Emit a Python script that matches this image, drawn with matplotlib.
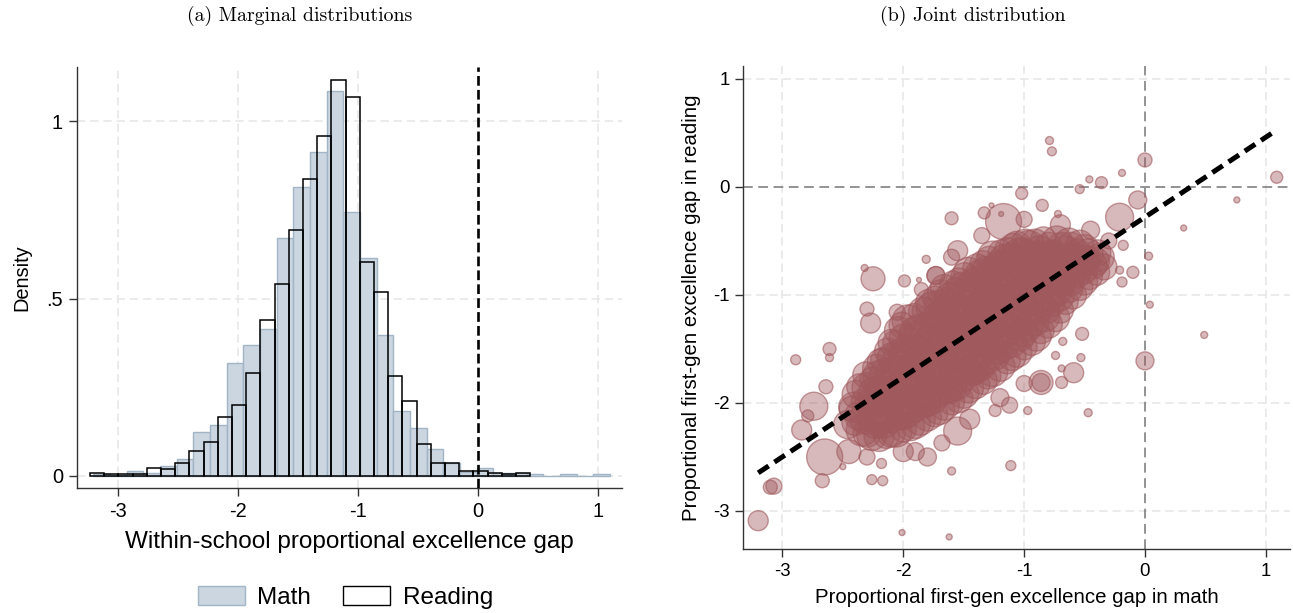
import matplotlib.pyplot as plt
from matplotlib.patches import Patch
import numpy as np

plt.rcParams['font.family'] = ['Liberation Sans', 'DejaVu Sans']
plt.rcParams['lines.scale_dashes'] = False

# --- marginal distributions (density per bin) ---
math_start, math_width = -3.206, 0.1389
math_density = [0.005, 0.002, 0.013, 0.007, 0.027, 0.049, 0.124, 0.143,
                0.318, 0.368, 0.413, 0.670, 0.816, 0.913, 1.086, 0.745,
                0.614, 0.397, 0.183, 0.134, 0.075, 0.036, 0.012, 0.021,
                0.008, 0.0075, 0.004, 0.0, 0.004, 0.0, 0.004]

read_start, read_width = -3.233, 0.1183
read_density = [0.009, 0.004, 0.004, 0.005, 0.021, 0.020, 0.037, 0.069,
                0.096, 0.167, 0.199, 0.291, 0.440, 0.541, 0.694, 0.836,
                0.959, 1.117, 1.068, 0.602, 0.520, 0.282, 0.210, 0.090,
                0.037, 0.035, 0.014, 0.014, 0.009, 0.004, 0.009]

# --- joint distribution: school-level gaps (math, reading) and weights ---
# main body of schools
cloud_math = [
    -2.46, -2.43,
    -2.34, -2.37, -2.33, -2.36,
    -2.26, -2.23, -2.27, -2.24, -2.26, -2.22,
    -2.14, -2.17, -2.13, -2.16, -2.14, -2.17, -2.13,
    -2.06, -2.03, -2.07, -2.04, -2.06, -2.03, -2.07, -2.04,
    -1.94, -1.97, -1.93, -1.96, -1.94, -1.97, -1.93, -1.96,
    -1.86, -1.83, -1.87, -1.84, -1.86, -1.83, -1.87, -1.84,
    -1.74, -1.77, -1.73, -1.76, -1.74, -1.77, -1.73, -1.76, -1.74,
    -1.66, -1.63, -1.67, -1.64, -1.66, -1.63, -1.67, -1.64, -1.66,
    -1.54, -1.57, -1.53, -1.56, -1.54, -1.57, -1.53, -1.56, -1.54,
    -1.46, -1.43, -1.47, -1.44, -1.46, -1.43, -1.47, -1.44, -1.46,
    -1.34, -1.37, -1.33, -1.36, -1.34, -1.37, -1.33, -1.36, -1.34,
    -1.26, -1.23, -1.27, -1.24, -1.26, -1.23, -1.27, -1.24, -1.26,
    -1.14, -1.17, -1.13, -1.16, -1.14, -1.17, -1.13, -1.16, -1.14,
    -1.06, -1.03, -1.07, -1.04, -1.06, -1.03, -1.07, -1.04, -1.06,
    -0.94, -0.97, -0.93, -0.96, -0.94, -0.97, -0.93, -0.96,
    -0.86, -0.83, -0.87, -0.84, -0.86, -0.83, -0.87, -0.84,
    -0.74, -0.77, -0.73, -0.76, -0.74, -0.77, -0.73,
    -0.66, -0.63, -0.67, -0.64, -0.66, -0.63,
    -0.54, -0.57, -0.53, -0.56, -0.54,
    -0.46, -0.43, -0.47,
    -0.34, -0.37,
]
cloud_read = [
    -2.20, -2.05,
    -2.25, -2.12, -1.98, -1.85,
    -2.30, -2.17, -2.04, -1.91, -1.78, -1.68,
    -2.30, -2.16, -2.02, -1.88, -1.74, -1.60, -1.52,
    -2.26, -2.12, -1.98, -1.84, -1.70, -1.56, -1.44, -1.33,
    -2.22, -2.08, -1.94, -1.80, -1.66, -1.52, -1.38, -1.24,
    -2.16, -2.02, -1.88, -1.74, -1.60, -1.46, -1.32, -1.15,
    -2.10, -1.96, -1.82, -1.68, -1.54, -1.40, -1.26, -1.12, -1.03,
    -2.02, -1.88, -1.74, -1.60, -1.46, -1.32, -1.18, -1.05, -0.94,
    -1.96, -1.82, -1.68, -1.54, -1.40, -1.26, -1.12, -0.98, -0.87,
    -1.86, -1.72, -1.58, -1.44, -1.30, -1.16, -1.02, -0.90, -0.79,
    -1.79, -1.65, -1.51, -1.37, -1.23, -1.09, -0.95, -0.82, -0.71,
    -1.71, -1.57, -1.43, -1.29, -1.15, -1.01, -0.87, -0.75, -0.64,
    -1.61, -1.47, -1.33, -1.19, -1.05, -0.92, -0.80, -0.68, -0.59,
    -1.53, -1.39, -1.25, -1.11, -0.98, -0.86, -0.74, -0.63, -0.54,
    -1.43, -1.29, -1.16, -1.03, -0.90, -0.78, -0.66, -0.55,
    -1.33, -1.20, -1.07, -0.94, -0.82, -0.70, -0.59, -0.49,
    -1.21, -1.08, -0.96, -0.84, -0.72, -0.61, -0.50,
    -1.06, -0.94, -0.82, -0.71, -0.60, -0.51,
    -0.93, -0.81, -0.70, -0.60, -0.53,
    -0.83, -0.72, -0.62,
    -0.74, -0.65,
]
cloud_weight = [
    196, 144,
    256, 196, 144, 169,
    225, 289, 169, 256, 144, 196,
    169, 324, 225, 196, 289, 144, 169,
    256, 196, 361, 169, 225, 256, 144, 196,
    196, 256, 169, 324, 196, 225, 169, 256,
    225, 169, 289, 196, 256, 169, 225, 196,
    169, 256, 196, 324, 169, 225, 196, 256, 144,
    225, 196, 256, 169, 289, 196, 225, 169, 196,
    196, 289, 169, 225, 196, 324, 169, 225, 169,
    225, 169, 256, 196, 225, 289, 169, 196, 225,
    196, 256, 169, 225, 324, 196, 169, 256, 169,
    225, 169, 289, 196, 225, 169, 256, 196, 225,
    169, 225, 196, 289, 169, 225, 196, 256, 169,
    225, 196, 169, 256, 196, 225, 169, 289, 196,
    196, 225, 169, 256, 196, 169, 225, 256,
    169, 225, 196, 169, 256, 196, 225, 169,
    196, 169, 225, 196, 256, 169, 225,
    169, 196, 225, 169, 256, 196,
    169, 196, 225, 169, 196,
    169, 196, 225,
    169, 196,
]

# more schools packed in the body
core_math = [
    -2.40, -2.41, -2.39,
    -2.30, -2.31, -2.29, -2.30, -2.31,
    -2.20, -2.21, -2.19, -2.20, -2.21, -2.19,
    -2.10, -2.11, -2.09, -2.10, -2.11, -2.09, -2.10,
    -2.00, -2.01, -1.99, -2.00, -2.01, -1.99, -2.00, -2.01,
    -1.90, -1.91, -1.89, -1.90, -1.91, -1.89, -1.90, -1.91,
    -1.80, -1.81, -1.79, -1.80, -1.81, -1.79, -1.80, -1.81, -1.79,
    -1.70, -1.71, -1.69, -1.70, -1.71, -1.69, -1.70, -1.71, -1.69,
    -1.60, -1.61, -1.59, -1.60, -1.61, -1.59, -1.60, -1.61, -1.59,
    -1.50, -1.51, -1.49, -1.50, -1.51, -1.49, -1.50, -1.51, -1.49,
    -1.40, -1.41, -1.39, -1.40, -1.41, -1.39, -1.40, -1.41, -1.39,
    -1.30, -1.31, -1.29, -1.30, -1.31, -1.29, -1.30, -1.31, -1.29,
    -1.20, -1.21, -1.19, -1.20, -1.21, -1.19, -1.20, -1.21, -1.19,
    -1.10, -1.11, -1.09, -1.10, -1.11, -1.09, -1.10, -1.11, -1.09,
    -1.00, -1.01, -0.99, -1.00, -1.01, -0.99, -1.00, -1.01, -0.99,
    -0.90, -0.91, -0.89, -0.90, -0.91, -0.89, -0.90, -0.91,
    -0.80, -0.81, -0.79, -0.80, -0.81, -0.79, -0.80,
    -0.70, -0.71, -0.69, -0.70, -0.71, -0.69,
    -0.60, -0.61, -0.59, -0.60, -0.61,
    -0.50, -0.51, -0.49, -0.50,
    -0.40, -0.41, -0.39,
]
core_read = [
    -2.18, -2.04, -1.92,
    -2.28, -2.14, -2.00, -1.86, -1.74,
    -2.31, -2.17, -2.03, -1.89, -1.75, -1.62,
    -2.28, -2.14, -2.00, -1.86, -1.72, -1.58, -1.44,
    -2.24, -2.10, -1.96, -1.82, -1.68, -1.54, -1.40, -1.28,
    -2.19, -2.05, -1.91, -1.77, -1.63, -1.49, -1.35, -1.20,
    -2.13, -1.99, -1.85, -1.71, -1.57, -1.43, -1.29, -1.15, -1.07,
    -2.06, -1.92, -1.78, -1.64, -1.50, -1.36, -1.22, -1.09, -0.98,
    -1.99, -1.85, -1.71, -1.57, -1.43, -1.29, -1.15, -1.02, -0.90,
    -1.91, -1.77, -1.63, -1.49, -1.35, -1.21, -1.07, -0.94, -0.83,
    -1.83, -1.69, -1.55, -1.41, -1.27, -1.13, -0.99, -0.86, -0.75,
    -1.75, -1.61, -1.47, -1.33, -1.19, -1.05, -0.91, -0.78, -0.67,
    -1.66, -1.52, -1.38, -1.24, -1.10, -0.97, -0.84, -0.72, -0.61,
    -1.57, -1.43, -1.29, -1.15, -1.02, -0.89, -0.77, -0.66, -0.56,
    -1.48, -1.34, -1.21, -1.08, -0.95, -0.82, -0.70, -0.59, -0.52,
    -1.38, -1.25, -1.12, -0.99, -0.86, -0.74, -0.62, -0.52,
    -1.27, -1.14, -1.01, -0.89, -0.77, -0.65, -0.54,
    -1.14, -1.01, -0.89, -0.77, -0.66, -0.55,
    -1.00, -0.88, -0.76, -0.65, -0.55,
    -0.88, -0.77, -0.66, -0.57,
    -0.79, -0.69, -0.61,
]
core_weight = [
    169, 225, 196,
    196, 256, 169, 225, 169,
    225, 169, 256, 196, 225, 169,
    196, 225, 169, 289, 196, 225, 169,
    169, 256, 196, 225, 169, 256, 196, 169,
    225, 196, 289, 169, 225, 196, 256, 169,
    196, 225, 169, 256, 196, 225, 169, 196, 169,
    225, 169, 256, 196, 225, 169, 289, 196, 169,
    169, 256, 196, 225, 169, 256, 196, 225, 169,
    225, 196, 169, 289, 196, 225, 169, 256, 196,
    196, 225, 256, 169, 225, 196, 289, 169, 196,
    169, 196, 225, 256, 169, 225, 196, 225, 169,
    225, 169, 196, 225, 289, 169, 225, 196, 169,
    196, 256, 169, 196, 225, 256, 169, 225, 196,
    169, 225, 196, 169, 256, 196, 225, 169, 196,
    225, 196, 256, 169, 225, 196, 169, 196,
    196, 169, 225, 196, 169, 225, 169,
    169, 225, 196, 169, 225, 196,
    196, 169, 225, 169, 196,
    169, 196, 169, 196,
    169, 196, 169,
]

# schools around the rim of the body
edge_math = [-1.73, -2.05, -1.85, -1.60, -1.35, -1.00, -0.70, -0.45, -0.30,
             -2.45, -2.30, -2.00, -1.90, -1.45, -1.20, -1.00, -1.12, -1.24,
             -0.86, -0.53, -0.69, -0.74, -0.10, -0.19, -0.21, -0.18, -1.19]
edge_read = [-0.82, -1.16, -0.95, -0.65, -0.45, -0.30, -0.35, -0.40, -0.50,
             -2.45, -2.50, -2.45, -2.45, -2.15, -1.95, -1.82, -2.02, -2.07,
             -1.81, -1.58, -1.68, -1.56, -0.79, -0.88, -0.77, -0.54, -0.25]
edge_weight = [81, 64, 49, 64, 64, 64, 100, 81, 64,
               144, 64, 100, 81, 100, 81, 64, 64, 36,
               81, 16, 12, 16, 36, 25, 16, 25, 6]

# isolated schools
out_math = [-0.79, -0.77, 0.00, -0.19, -0.46, -0.36, -0.54, -1.02, 1.09,
            0.76, 0.32, -0.06, -0.21, -0.85, -0.72, -1.17, -1.33, -1.27,
            -1.60, -1.55, -1.81, -1.99, -1.87, -2.25, -2.32, -2.30, -2.27,
            0.03, 0.04, 0.49, 0.00, -0.47, -0.59, -0.52, -0.69, -0.97,
            -1.11, -1.60, -2.01, -1.62, -2.17, -2.26, -2.50, -2.67, -3.07,
            -3.10, -3.20, -2.89, -2.61, -2.61, -2.64, -2.74, -2.84, -2.65,
            -2.79, -2.18, -1.80, -1.68, -1.55, -0.68, -0.86, -1.73]
out_read = [0.43, 0.33, 0.25, 0.13, 0.07, 0.04, -0.02, -0.06, 0.09,
            -0.12, -0.38, -0.12, -0.28, -0.17, -0.25, -0.32, -0.24, -0.17,
            -0.29, -0.59, -0.67, -0.87, -0.86, -0.85, -0.75, -1.13, -1.26,
            -0.64, -1.09, -1.37, -1.61, -2.09, -1.72, -1.36, -1.81, -2.07,
            -2.58, -2.63, -3.20, -3.24, -2.72, -2.71, -2.59, -2.72, -2.77,
            -2.78, -3.09, -1.60, -1.50, -1.58, -1.85, -2.03, -2.25, -2.50,
            -2.12, -2.56, -2.50, -2.37, -2.26, -1.43, -1.81, -0.82]
out_weight = [16, 20, 49, 12, 12, 36, 20, 36, 36,
              9, 9, 81, 196, 36, 12, 324, 36, 6,
              42, 100, 16, 36, 6, 144, 12, 49, 100,
              16, 12, 12, 81, 16, 100, 42, 36, 16,
              25, 16, 9, 9, 25, 25, 9, 49, 64,
              49, 100, 25, 42, 16, 49, 196, 100, 324,
              36, 25, 81, 64, 196, 16, 144, 81]

# fitted line of reading gap on math gap
fit_slope, fit_intercept = 0.740, -0.279

math_gap = np.array(cloud_math + core_math + edge_math + out_math)
read_gap = np.array(cloud_read + core_read + edge_read + out_read)
school_weight = np.array(cloud_weight + core_weight + edge_weight + out_weight)

math_fill = '#cbd6e0'
math_edge = '#a2b5c6'
grid_kw = dict(color='#e8e8e8', lw=1.2, dashes=(6, 3.5), zorder=0)

fig = plt.figure(figsize=(12.93, 6.13), dpi=100)

# (a) histograms
ax1 = fig.add_axes([0.0593, 0.2034, 0.4215, 0.6878])
for v in [-3, -2, -1, 1]:
    ax1.axvline(v, **grid_kw)
for v in [0, 0.5, 1]:
    ax1.axhline(v, **grid_kw)

math_edges = math_start + math_width * np.arange(len(math_density) + 1)
read_edges = read_start + read_width * np.arange(len(read_density) + 1)
ax1.bar(math_edges[:-1], math_density, width=math_width, align='edge',
        color=math_fill, edgecolor=math_edge, linewidth=1.0, zorder=2)
ax1.bar(read_edges[:-1], read_density, width=read_width, align='edge',
        fill=False, edgecolor='black', linewidth=1.1, zorder=3)
ax1.axvline(0, color='black', lw=1.9, dashes=(7, 3), zorder=4)

ax1.set_xlim(-3.344, 1.197)
ax1.set_ylim(-0.035, 1.154)
ax1.set_xticks([-3, -2, -1, 0, 1])
ax1.set_xticklabels(['-3', '-2', '-1', '0', '1'])
ax1.set_yticks([0, 0.5, 1])
ax1.set_yticklabels(['0', '.5', '1'])
ax1.set_ylabel('Density', fontsize=14.4)
ax1.yaxis.set_label_coords(-0.083, 0.5)
ax1.set_xlabel('Within-school proportional excellence gap', fontsize=17.5,
               labelpad=7)
ax1.tick_params(labelsize=14.4)

# (b) bubble scatter
ax2 = fig.add_axes([0.5749, 0.1039, 0.4228, 0.7884])
for v in [-3, -2, -1, 1]:
    ax2.axvline(v, **grid_kw)
for v in [1, -1, -2, -3]:
    ax2.axhline(v, **grid_kw)
ax2.axvline(0, color='#808080', lw=1.2, dashes=(7, 4), zorder=1)
ax2.axhline(0, color='#808080', lw=1.2, dashes=(7, 4), zorder=1)

ax2.scatter(math_gap, read_gap, s=school_weight * 2.07,
            facecolor=(0.627, 0.349, 0.365, 0.42),
            edgecolor=(0.627, 0.349, 0.365, 0.6), linewidth=1.0, zorder=2)

fit_x = np.array([math_gap.min(), math_gap.max()])
ax2.plot(fit_x, fit_intercept + fit_slope * fit_x, color='black', lw=3.6,
         dashes=(9, 5), zorder=5)

ax2.set_xlim(-3.323, 1.2)
ax2.set_ylim(-3.355, 1.12)
ax2.set_xticks([-3, -2, -1, 0, 1])
ax2.set_xticklabels(['-3', '-2', '-1', '0', '1'])
ax2.set_yticks([1, 0, -1, -2, -3])
ax2.set_yticklabels(['1', '0', '-1', '-2', '-3'])
ax2.set_xlabel('Proportional first-gen excellence gap in math', fontsize=14.7,
               labelpad=6)
ax2.set_ylabel('Proportional first-gen excellence gap in reading', fontsize=14.7)
ax2.yaxis.set_label_coords(-0.078, 0.5)
ax2.tick_params(labelsize=13.4)

for ax in (ax1, ax2):
    for side in ('top', 'right'):
        ax.spines[side].set_visible(False)
    for side in ('left', 'bottom'):
        ax.spines[side].set_color('#333333')
        ax.spines[side].set_linewidth(1.0)
    ax.tick_params(length=5.8, width=1.0, color='#333333', pad=4)

fig.text(300 / 1293, 1 - 16 / 613, '(a) Marginal distributions',
         family='cmr10', fontsize=14.3, ha='center', va='center')
fig.text(973 / 1293, 1 - 16 / 613, '(b) Joint distribution',
         family='cmr10', fontsize=14.3, ha='center', va='center')

handles = [Patch(facecolor=math_fill, edgecolor=math_edge, label='Math'),
           Patch(facecolor='white', edgecolor='black', label='Reading')]
fig.legend(handles=handles, loc='center', bbox_to_anchor=(0.267, 0.026),
           ncol=2, frameon=False, fontsize=17.5, handlelength=1.93,
           handleheight=0.82, handletextpad=0.5, columnspacing=1.35,
           borderaxespad=0, borderpad=0)

fig.savefig('out.png', dpi=100)
